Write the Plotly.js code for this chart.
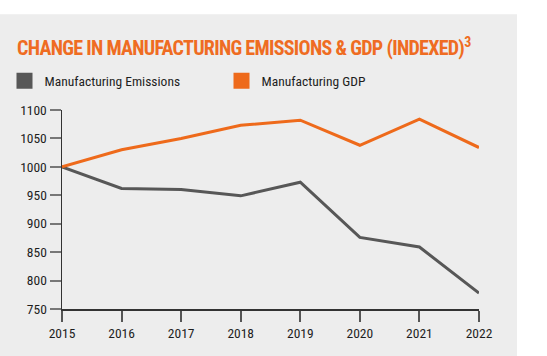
<!DOCTYPE html>
<html><head><meta charset="utf-8">
<script src="https://cdn.plot.ly/plotly-3.0.1.min.js"></script>
<style>html,body{margin:0;padding:0;background:#fff}#chart{width:547px;height:356px}
#chart .gtitle{letter-spacing:-0.7px}</style>
</head><body><div id="chart"></div>
<script>
const years = [2015, 2016, 2017, 2018, 2019, 2020, 2021, 2022];
const emissions = [1000, 962, 960, 949, 973, 876, 859, 778];
const gdp = [1000, 1030, 1050, 1073, 1082, 1038, 1084, 1034];
const seriesNames = ['Manufacturing Emissions', 'Manufacturing GDP'];
const seriesColors = ['#575757', '#ee6a1b'];
const yTicks = [750, 800, 850, 900, 950, 1000, 1050, 1100];
const titleText = 'CHANGE IN MANUFACTURING EMISSIONS &amp; GDP (INDEXED)<sup>3</sup>';

const condensed = '"Roboto Condensed", Roboto, sans-serif';

const traces = [
  {x: years, y: emissions, mode: 'lines', line: {color: seriesColors[0], width: 3}, showlegend: false, cliponaxis: false},
  {x: years, y: gdp, mode: 'lines', line: {color: seriesColors[1], width: 3}, showlegend: false, cliponaxis: false},
  {x: [null], y: [null], mode: 'markers', name: seriesNames[0], legend: 'legend', marker: {symbol: 'square', size: 17, color: seriesColors[0]}},
  {x: [null], y: [null], mode: 'markers', name: seriesNames[1], legend: 'legend2', marker: {symbol: 'square', size: 17, color: seriesColors[1]}}
];

const legendBase = {
  xref: 'container', yref: 'container', xanchor: 'left', y: 1 - 81/356, yanchor: 'middle',
  font: {family: condensed, size: 13.5, color: '#1e1e1e'},
  bgcolor: 'rgba(0,0,0,0)', borderwidth: 0
};

const layout = {
  width: 547, height: 356,
  margin: {l: 62, r: 68, t: 110, b: 46.7, pad: 0, autoexpand: false},
  paper_bgcolor: '#ffffff',
  plot_bgcolor: 'rgba(0,0,0,0)',
  title: {
    text: titleText,
    font: {family: condensed, size: 20, color: '#ef6c22', weight: 'bold'},
    xref: 'container', yref: 'container', x: 17/547, xanchor: 'left', y: 1 - 48/356, yanchor: 'middle'
  },
  showlegend: true,
  legend: Object.assign({}, legendBase, {x: 4.5/547}),
  legend2: Object.assign({}, legendBase, {x: 221.5/547}),
  xaxis: {
    range: [2015, 2022], tickvals: years, ticktext: years.map(String),
    showgrid: false, zeroline: false,
    showline: true, linecolor: '#333', linewidth: 1.5,
    ticks: 'outside', ticklen: 11, tickwidth: 2, tickcolor: '#555',
    tickfont: {family: condensed, size: 13.5, color: '#1e1e1e'}
  },
  yaxis: {
    range: [750, 1100], tickvals: yTicks,
    showgrid: false, zeroline: false,
    showline: true, linecolor: '#333', linewidth: 1.5,
    ticks: 'outside', ticklen: 11, tickwidth: 2, tickcolor: '#777',
    tickfont: {family: condensed, size: 13.5, color: '#1e1e1e'}
  },
  shapes: [{
    type: 'rect', layer: 'below', xref: 'paper', yref: 'paper',
    x0: (0 - 62) / 417, x1: (517 - 62) / 417,
    y0: (309.3 - 360) / 199.3, y1: (309.3 - 14) / 199.3,
    fillcolor: '#ededed', line: {width: 0}
  }]
};

Plotly.newPlot('chart', traces, layout, {displayModeBar: false, staticPlot: true});
</script></body></html>
